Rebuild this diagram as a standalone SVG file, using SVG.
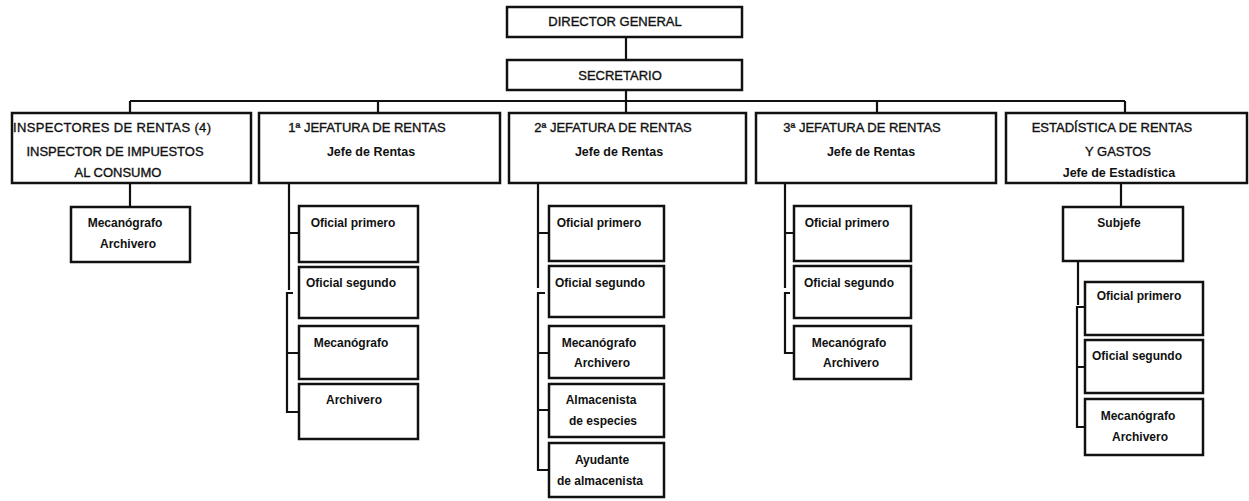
<svg xmlns="http://www.w3.org/2000/svg" width="1249" height="501" viewBox="0 0 1249 501">
<style>
.box{fill:#fff;stroke:#111;stroke-width:2.5}
.ln{fill:none;stroke:#111;stroke-width:2.2}
text{font-family:"Liberation Sans",Arial,sans-serif;fill:#111;text-anchor:middle}
.cap{font-size:13px;stroke:#111;stroke-width:0.35}
.low{font-size:12.5px;font-weight:bold}
.s{font-size:12px;font-weight:bold}
</style>
<rect width="1249" height="501" fill="#fff"/>
<g id="connectors">
<path class="ln" d="M626,37V60M626,90V113M130,101H1125M130,101V113M378,101V113M877,101V113M1125,101V113"/>
<path class="ln" d="M130,183V207"/>
<path class="ln" d="M289,183V290M289,233H299M293,293H287V412H299M287,353H299"/>
<path class="ln" d="M538,183V288M538,233H549M545,293H538V470H549M538,353H549M538,410H549"/>
<path class="ln" d="M785,183V288M785,233H794M790,293H785V353H794"/>
<path class="ln" d="M1121,183V207M1078,261V305M1084,307H1077V427H1085M1077,367H1085"/>
</g>
<g id="director"><rect class="box" x="507" y="7" width="235" height="30"/><text class="cap" x="615" y="26">DIRECTOR GENERAL</text></g>
<g id="secretario"><rect class="box" x="507" y="60" width="235" height="30"/><text class="cap" x="620" y="79.5">SECRETARIO</text></g>
<g id="inspectores"><rect class="box" x="12" y="113" width="239" height="70"/>
<text class="cap" x="112" y="132" textLength="198">INSPECTORES DE RENTAS (4)</text>
<text class="cap" x="115" y="155.5">INSPECTOR DE IMPUESTOS</text>
<text class="cap" x="118" y="177">AL CONSUMO</text></g>
<g id="jefatura1"><rect class="box" x="259" y="113" width="241" height="70"/>
<text class="cap" x="367" y="132">1ª JEFATURA DE RENTAS</text>
<text class="low" x="371" y="155.5">Jefe de Rentas</text></g>
<g id="jefatura2"><rect class="box" x="509" y="113" width="237" height="70"/>
<text class="cap" x="613" y="132">2ª JEFATURA DE RENTAS</text>
<text class="low" x="619" y="155.5">Jefe de Rentas</text></g>
<g id="jefatura3"><rect class="box" x="756" y="113" width="240" height="70"/>
<text class="cap" x="862" y="132">3ª JEFATURA DE RENTAS</text>
<text class="low" x="871" y="155.5">Jefe de Rentas</text></g>
<g id="estadistica"><rect class="box" x="1006" y="113" width="241" height="70"/>
<text class="cap" x="1112" y="132">ESTADÍSTICA DE RENTAS</text>
<text class="cap" x="1118" y="155.5">Y GASTOS</text>
<text class="low" x="1119" y="176.5">Jefe de Estadística</text></g>
<g id="insp-mecanografo"><rect class="box" x="71" y="207" width="119" height="55"/>
<text class="s" x="125" y="227">Mecanógrafo</text><text class="s" x="128" y="248">Archivero</text></g>
<g id="j1-oficial1"><rect class="box" x="299" y="206" width="119" height="56"/><text class="s" x="353" y="227">Oficial primero</text></g>
<g id="j1-oficial2"><rect class="box" x="299" y="267" width="119" height="51"/><text class="s" x="351" y="287">Oficial segundo</text></g>
<g id="j1-mecanografo"><rect class="box" x="299" y="326" width="119" height="53"/><text class="s" x="351" y="347">Mecanógrafo</text></g>
<g id="j1-archivero"><rect class="box" x="299" y="384" width="119" height="55"/><text class="s" x="354" y="404">Archivero</text></g>
<g id="j2-oficial1"><rect class="box" x="549" y="206" width="115" height="55"/><text class="s" x="599" y="227">Oficial primero</text></g>
<g id="j2-oficial2"><rect class="box" x="549" y="266" width="115" height="51"/><text class="s" x="600" y="287">Oficial segundo</text></g>
<g id="j2-mecanografo"><rect class="box" x="549" y="326" width="115" height="52"/><text class="s" x="599" y="347">Mecanógrafo</text><text class="s" x="602" y="367">Archivero</text></g>
<g id="j2-almacenista"><rect class="box" x="549" y="384" width="115" height="53"/><text class="s" x="601" y="404">Almacenista</text><text class="s" x="603" y="425">de especies</text></g>
<g id="j2-ayudante"><rect class="box" x="549" y="443" width="115" height="54"/><text class="s" x="602" y="464">Ayudante</text><text class="s" x="600" y="485">de almacenista</text></g>
<g id="j3-oficial1"><rect class="box" x="794" y="206" width="117" height="55"/><text class="s" x="847" y="227">Oficial primero</text></g>
<g id="j3-oficial2"><rect class="box" x="794" y="266" width="117" height="52"/><text class="s" x="849" y="287">Oficial segundo</text></g>
<g id="j3-mecanografo"><rect class="box" x="794" y="326" width="117" height="53"/><text class="s" x="849" y="347">Mecanógrafo</text><text class="s" x="851" y="367">Archivero</text></g>
<g id="subjefe"><rect class="box" x="1063" y="207" width="120" height="54"/><text class="s" x="1119" y="227">Subjefe</text></g>
<g id="e-oficial1"><rect class="box" x="1085" y="282" width="118" height="53"/><text class="s" x="1139" y="300">Oficial primero</text></g>
<g id="e-oficial2"><rect class="box" x="1085" y="340" width="118" height="53"/><text class="s" x="1137" y="360">Oficial segundo</text></g>
<g id="e-mecanografo"><rect class="box" x="1085" y="399" width="118" height="56"/><text class="s" x="1138" y="420">Mecanógrafo</text><text class="s" x="1140" y="441">Archivero</text></g>
</svg>
